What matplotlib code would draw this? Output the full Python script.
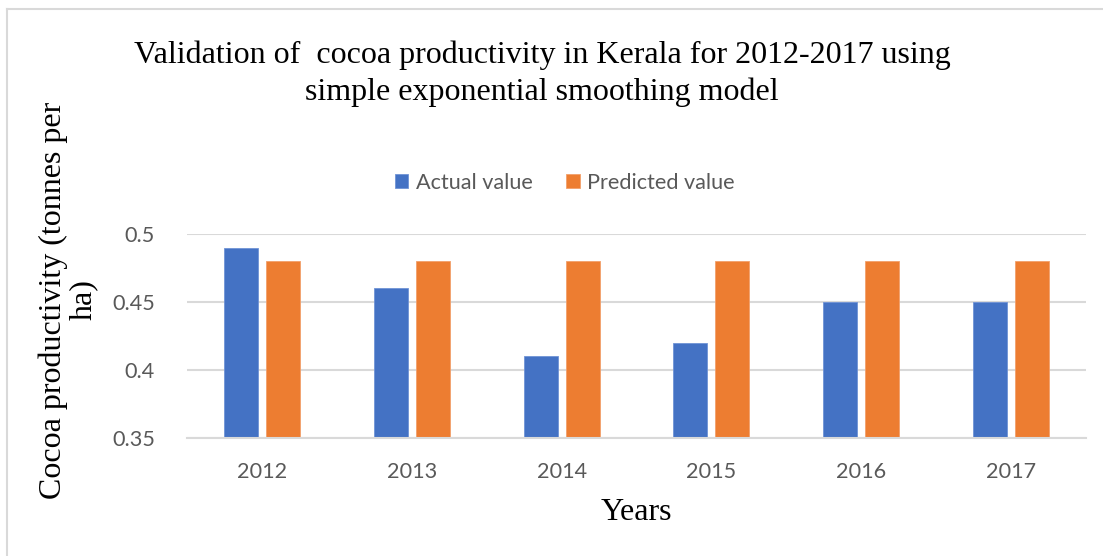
import matplotlib
matplotlib.use("Agg")
import matplotlib.pyplot as plt
import numpy as np

years = ["2012", "2013", "2014", "2015", "2016", "2017"]
actual = [0.49, 0.46, 0.41, 0.42, 0.45, 0.45]
predicted = [0.48, 0.48, 0.48, 0.48, 0.48, 0.48]
y_ticks = [0.35, 0.4, 0.45, 0.5]
y_tick_labels = ["0.35", "0.4", "0.45", "0.5"]

BLUE = "#4472C4"
ORANGE = "#ED7D31"
GRID = "#D9D9D9"
TICK = "#595959"
SERIF = "Liberation Serif"
SANS = "Lato"

W, H = 1103, 556
fig = plt.figure(figsize=(W / 100, H / 100), dpi=100)
fig.patch.set_facecolor("white")

# chart frame (top and left edges)
fig.add_artist(plt.Line2D([7 / W, 7 / W], [0, 1 - 9 / H], transform=fig.transFigure,
                          color=GRID, lw=1.5))
fig.add_artist(plt.Line2D([7 / W, 1], [1 - 9 / H, 1 - 9 / H], transform=fig.transFigure,
                          color=GRID, lw=1.5))

left, right, top, bottom = 187, 1086, 234, 438
ax = fig.add_axes([left / W, 1 - bottom / H, (right - left) / W, (bottom - top) / H])

x = np.arange(len(years))
bw = 0.227
off = 0.14
ax.bar(x - off, actual, width=bw, color=BLUE, edgecolor="#6F93D6", linewidth=0.6,
       label="Actual value", zorder=3)
ax.bar(x + off, predicted, width=bw, color=ORANGE, edgecolor="#F2A06B", linewidth=0.6,
       label="Predicted value", zorder=3)

ax.set_xlim(-0.5, len(years) - 0.5)
ax.set_ylim(0.35, 0.5)
ax.set_yticks(y_ticks)
ax.set_yticklabels(y_tick_labels)
ax.set_xticks(x)
ax.set_xticklabels(years)
ax.grid(axis="y", color=GRID, lw=1.5, zorder=0)
ax.set_axisbelow(True)
for s in ["top", "right", "left"]:
    ax.spines[s].set_visible(False)
ax.spines["bottom"].set_color(GRID)
ax.spines["bottom"].set_linewidth(1.5)
ax.spines["bottom"].set_zorder(4)
ax.tick_params(axis="both", length=0, colors=TICK, labelsize=15.6)
ax.tick_params(axis="y", pad=23)
ax.tick_params(axis="x", pad=17)
for lbl in ax.get_xticklabels() + ax.get_yticklabels():
    lbl.set_fontfamily(SANS)

# two-line title
fig.text(542 / W, 1 - 63 / H,
         "Validation of  cocoa productivity in Kerala for 2012-2017 using",
         ha="center", va="baseline", fontsize=23, family=SERIF, color="black")
fig.text(542 / W, 1 - 100 / H, "simple exponential smoothing model",
         ha="center", va="baseline", fontsize=23, family=SERIF, color="black")

fig.text(68 / W, 1 - 300 / H, "Cocoa productivity (tonnes per\nha)", rotation=90,
         ha="center", va="center", fontsize=23, family=SERIF, linespacing=1.05,
         multialignment="center")
fig.text(636 / W, 1 - 513 / H, "Years", ha="center", va="center", fontsize=23,
         family=SERIF)

leg = fig.legend(loc="center", bbox_to_anchor=(565 / W, 1 - 183 / H), ncol=2,
                 frameon=False, prop={"family": SANS, "size": 15.6},
                 handlelength=0.62, handleheight=0.62, handletextpad=0.35,
                 columnspacing=1.55)
for t in leg.get_texts():
    t.set_color(TICK)

fig.savefig("out.png", dpi=100, facecolor="white")
